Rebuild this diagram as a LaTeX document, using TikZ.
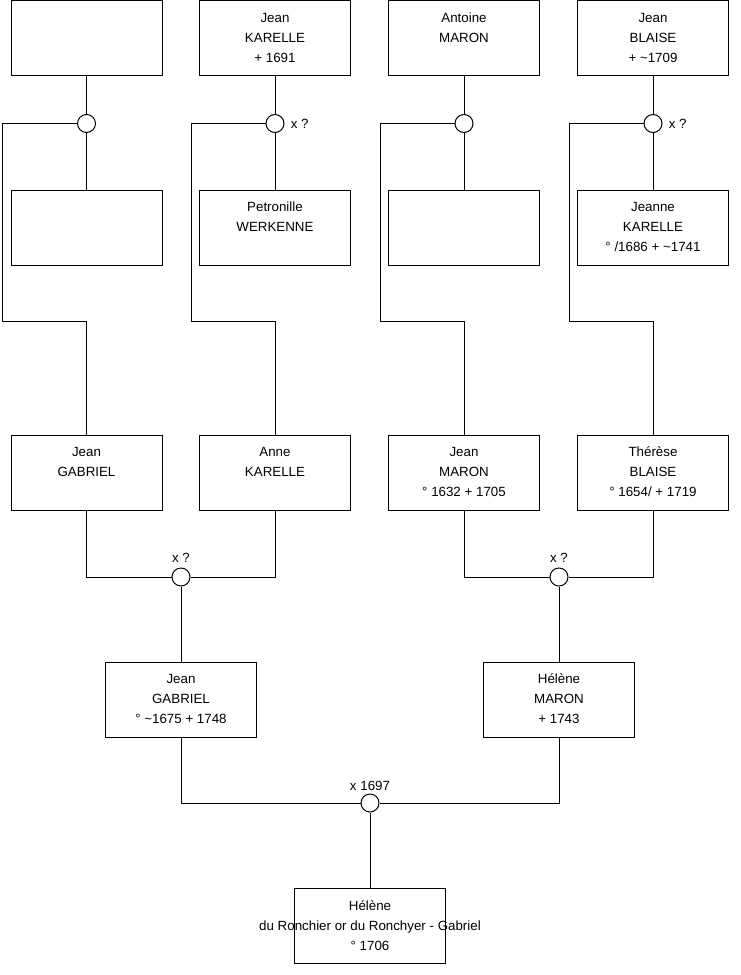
\documentclass[tikz,border=0pt]{standalone}
\usepackage{fontspec}
\setmainfont{Liberation Sans}
\usetikzlibrary{positioning}
\newcommand{\who}[3]{\strut#1\\\strut#2\\\strut#3}
\tikzset{
  person/.style={draw=black,fill=white,line width=0.75pt,
                 minimum width=113.25pt,minimum height=56.25pt,
                 inner sep=2pt,align=center,
                 font=\fontsize{10}{15}\selectfont},
  union/.style={circle,draw=black,fill=white,line width=0.75pt,
                minimum size=13.5pt,inner sep=0pt},
  note/.style={inner sep=2pt,font=\fontsize{10}{12}\selectfont},
  link/.style={draw=black,line width=0.75pt}
}
\begin{document}
\begin{tikzpicture}[x=0.75pt,y=-0.75pt]
    \path[use as bounding box] (0,0) rectangle (740,975);
    % great-grandparents
    \node[person] (unkA) at (86.5,38) {\who{}{}{}};
    \node[person] (karJ) at (275,38) {\who{Jean}{KARELLE}{+ 1691}};
    \node[person] (marA) at (464,38) {\who{Antoine}{MARON}{}};
    \node[person] (blaJ) at (653,38) {\who{Jean}{BLAISE}{+ \textasciitilde 1709}};
    \node[union] (m1) at (86.5,123.5) {};
    \node[union] (m2) at (275,123.5) {};
    \node[union] (m3) at (464,123.5) {};
    \node[union] (m4) at (653,123.5) {};
    \node[note,right=2.5pt of m2] (m2x) {x ?};
    \node[note,right=2.5pt of m4] (m4x) {x ?};
    \node[person] (unkB) at (86.5,227.5) {\who{}{}{}};
    \node[person] (werP) at (275,227.5) {\who{Petronille}{WERKENNE}{}};
    \node[person] (unkC) at (464,227.5) {\who{}{}{}};
    \node[person] (karJe) at (653,227.5)
      {\who{Jeanne}{KARELLE}{° /1686 + \textasciitilde 1741}};
    \draw[link] (unkA) -- (m1) -- (unkB);
    \draw[link] (karJ) -- (m2) -- (werP);
    \draw[link] (marA) -- (m3) -- (unkC);
    \draw[link] (blaJ) -- (m4) -- (karJe);

    % grandparents
    \node[person] (gabJ) at (86.5,472.7) {\who{Jean}{GABRIEL}{}};
    \node[person] (karA) at (275,472.7) {\who{Anne}{KARELLE}{}};
    \node[person] (marJ) at (464,472.7) {\who{Jean}{MARON}{° 1632 + 1705}};
    \node[person] (blaT) at (653,472.7) {\who{Thérèse}{BLAISE}{° 1654/ + 1719}};
    \coordinate (k1) at (2,321.5);
    \coordinate (k2) at (191,321.5);
    \coordinate (k3) at (380,321.5);
    \coordinate (k4) at (569,321.5);
    \draw[link] (m1.west) -| (k1) -| (gabJ.north);
    \draw[link] (m2.west) -| (k2) -| (karA.north);
    \draw[link] (m3.west) -| (k3) -| (marJ.north);
    \draw[link] (m4.west) -| (k4) -| (blaT.north);

    % parents
    \node[union] (m5) at (181,577) {};
    \node[union] (m6) at (559,577) {};
    \node[note,above=1.5pt of m5] (m5x) {x ?};
    \node[note,above=1.5pt of m6] (m6x) {x ?};
    \node[person] (gabJ2) at (181,699.5)
      {\who{Jean}{GABRIEL}{° \textasciitilde 1675 + 1748}};
    \node[person] (marH) at (559,699.5) {\who{Hélène}{MARON}{+ 1743}};
    \draw[link] (gabJ) |- (m5);
    \draw[link] (karA) |- (m5);
    \draw[link] (marJ) |- (m6);
    \draw[link] (blaT) |- (m6);
    \draw[link] (m5) -- (gabJ2);
    \draw[link] (m6) -- (marH);

    % child
    \node[union] (m7) at (370,803) {};
    \node[note,above=0pt of m7] (m7x) {x 1697};
    \node[person] (helene) at (370,926)
      {\who{Hélène}{\makebox[0pt]{du Ronchier or du Ronchyer - Gabriel}}{° 1706}};
    \draw[link] (gabJ2) |- (m7);
    \draw[link] (marH) |- (m7);
    \draw[link] (m7) -- (helene);
\end{tikzpicture}
\end{document}
